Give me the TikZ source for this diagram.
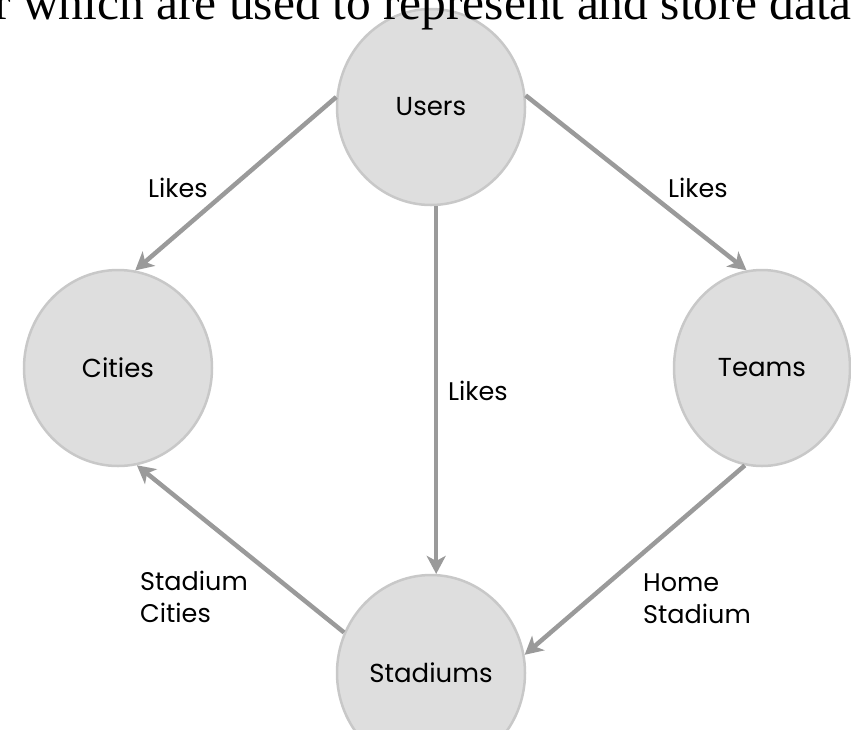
\documentclass[tikz,border=0pt]{standalone}
\usepackage{fontspec}
\setmainfont{Poppins}
\newfontfamily\headfont{Liberation Serif}
\usetikzlibrary{arrows.meta,shapes.geometric}

\definecolor{nodefill}{HTML}{DEDEDE}
\definecolor{nodeline}{HTML}{C8C8C8}
\definecolor{edgegray}{HTML}{9A9A9A}

\begin{document}
\begin{tikzpicture}[x=1pt,y=-1pt,
	entity/.style={ellipse,fill=nodefill,draw=nodeline,line width=2.5pt,minimum width=188pt,minimum height=196pt,inner sep=0pt,font=\fontsize{26}{30}\selectfont},
	rel/.style={draw=edgegray,line width=4.5pt,-{Stealth[length=18pt,width=19pt,inset=5pt]}},
	lbl/.style={font=\fontsize{25.5}{32}\selectfont,align=left,inner sep=0pt}]
	% The frame
	\clip (0,0) rectangle (851,729);
	
	% The entities
	\node[entity] (users) at (431,107) {Users};
	\node[entity] (cities) at (118,368) {Cities};
	\node[entity,minimum width=176pt] (teams) at (762,368) {Teams};
	\node[entity] (stadiums) at (431,673) {Stadiums};
	
	% The cut-off heading
	\node[anchor=base west,inner sep=0pt,font=\headfont\fontsize{49.5}{55}\selectfont] (head) at (-6,19) {r which are used to represent and store data};
	
	% The relations
	\draw[rel] (users.174) -- (cities.80);
	\draw[rel] (users.7) -- (teams.99);
	\draw[rel] (users.-87) -- (stadiums.87);
	\draw[rel] (teams.-100) -- (stadiums.11);
	\draw[rel] (stadiums.155) -- (cities.-79);
	
	% The relation labels
	\node[lbl,anchor=base west] (likesleft) at (148,197) {Likes};
	\node[lbl,anchor=base west] (likesright) at (668,197) {Likes};
	\node[lbl,anchor=base west] (likesmid) at (448,400) {Likes};
	\node[lbl,anchor=base west] (stadcities) at (140,622) {Stadium\\Cities};
	\node[lbl,anchor=base west] (homestad) at (643,623) {Home\\Stadium};
\end{tikzpicture}
\end{document}
